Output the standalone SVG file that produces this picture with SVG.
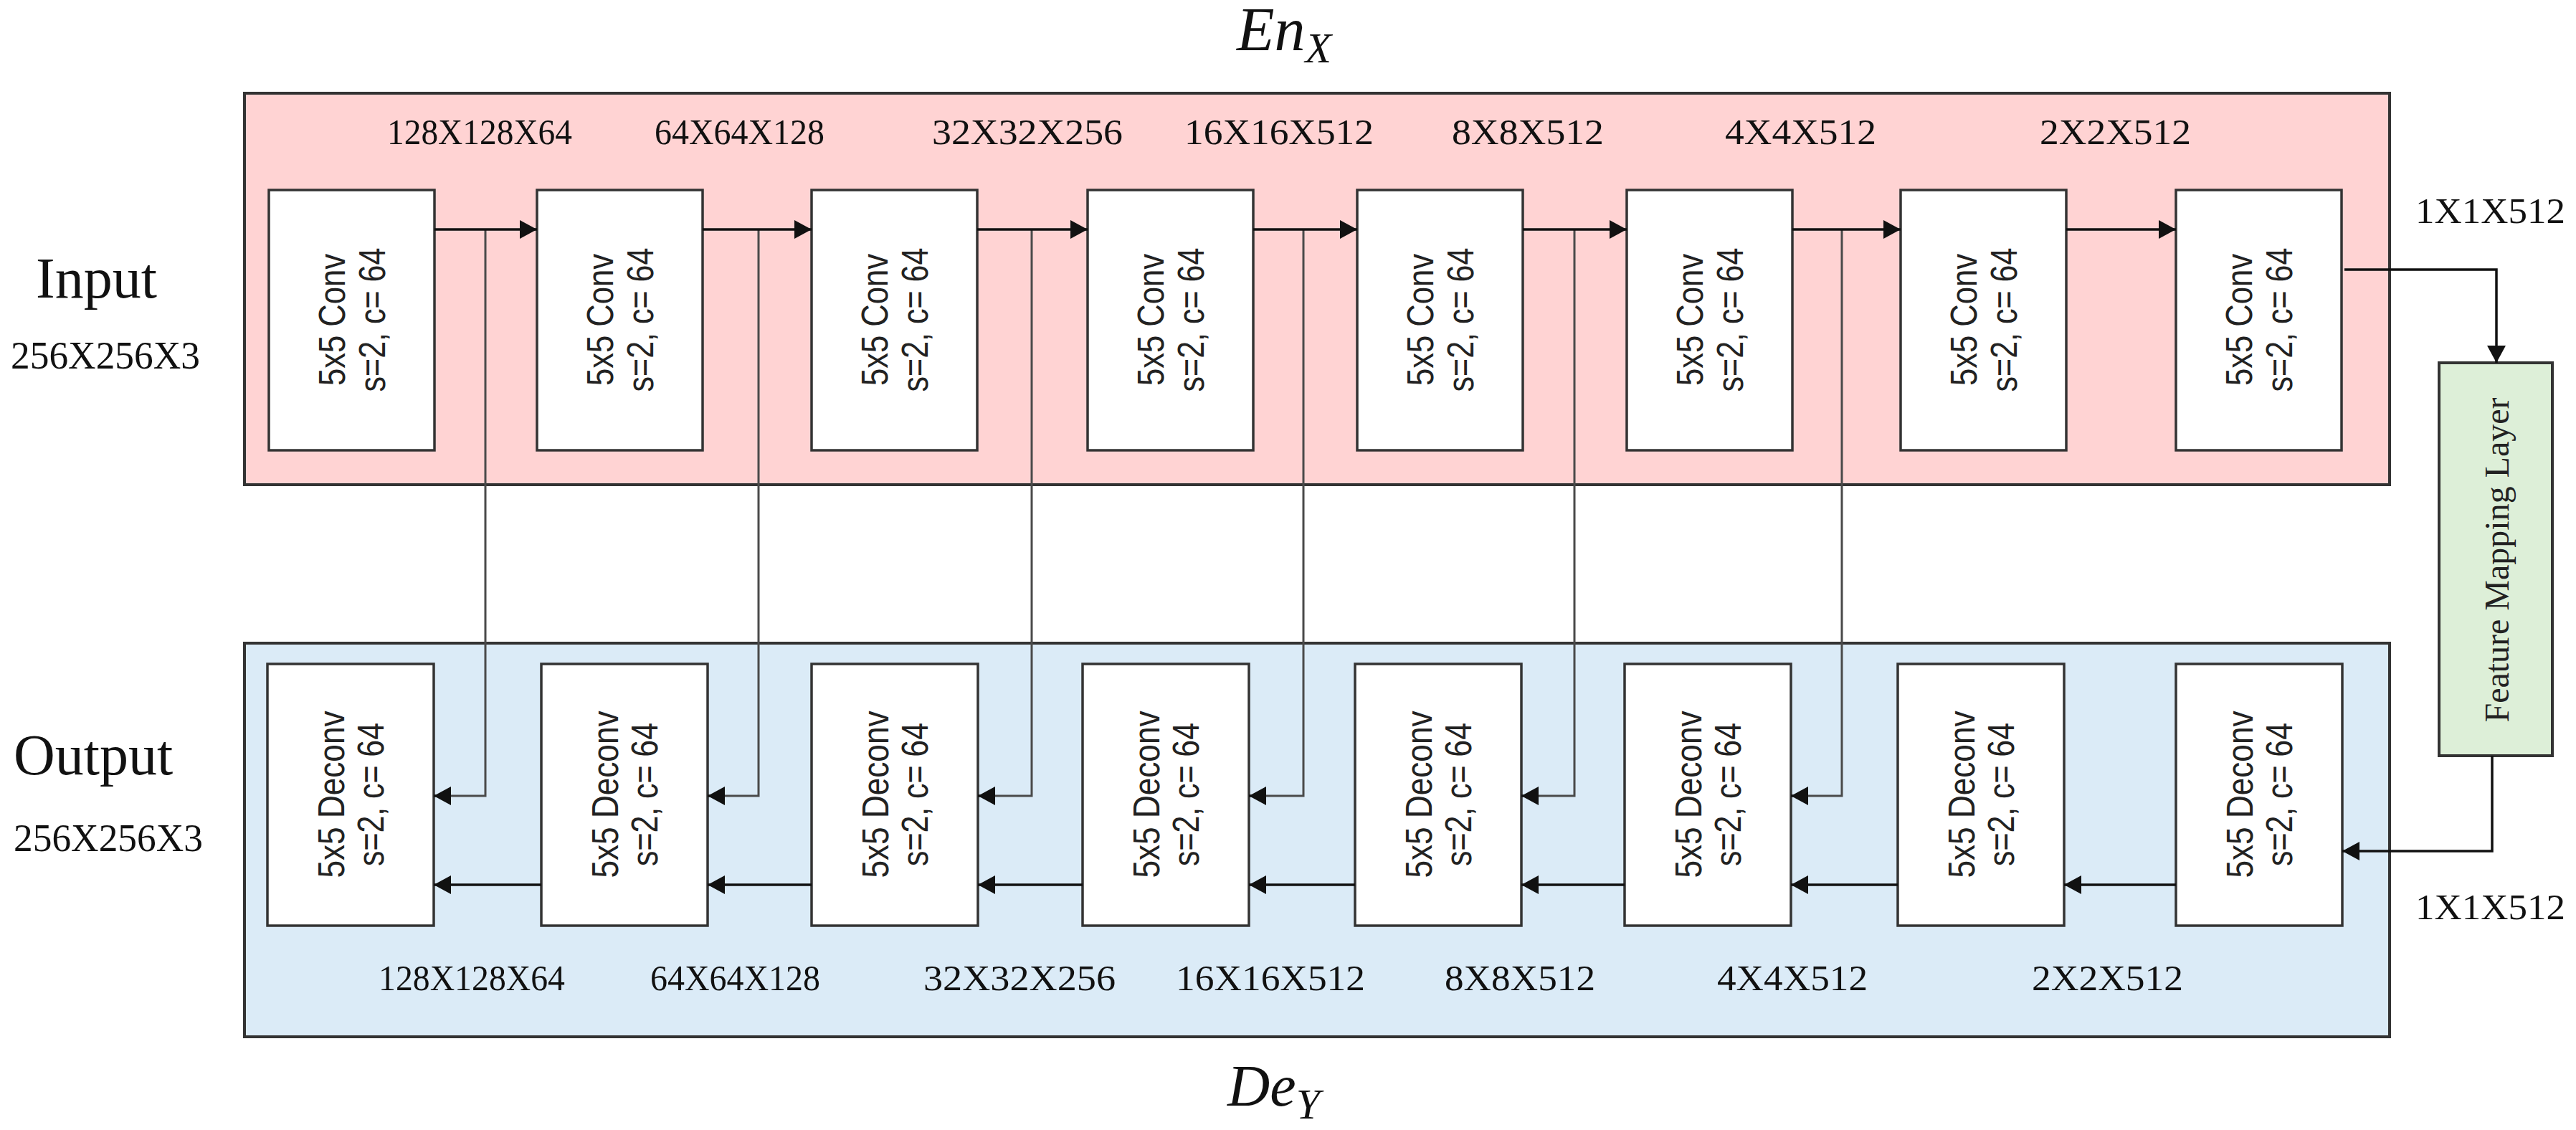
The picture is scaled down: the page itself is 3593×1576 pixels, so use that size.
<svg xmlns="http://www.w3.org/2000/svg" width="3593" height="1576" viewBox="0 0 3593 1576">
<style>
.bg{fill:#ffffff}
.enc{fill:#ffd3d3;stroke:#333;stroke-width:4}
.dec{fill:#dbebf7;stroke:#333;stroke-width:4}
.box{fill:#ffffff;stroke:#333;stroke-width:3.5}
.fm{fill:#ddefd8;stroke:#333;stroke-width:4}
.lbl{font-family:"Liberation Serif","Times New Roman",serif;font-size:50px;fill:#111}
.side{font-family:"Liberation Serif","Times New Roman",serif;font-size:80px;fill:#111}
.dim{font-family:"Liberation Serif","Times New Roman",serif;font-size:54px;fill:#111}
.math{font-family:"Liberation Serif","Times New Roman",serif;font-style:italic;fill:#111}
.bt{font-family:"Liberation Sans",Arial,sans-serif;font-size:52px;fill:#222;text-anchor:middle}
.fmt{font-family:"Liberation Serif","Times New Roman",serif;font-size:48px;fill:#222;text-anchor:middle}
.arr{fill:none;stroke:#111;stroke-width:3.5}
.skip{fill:none;stroke:#4a4a4a;stroke-width:3}
</style>
<defs>
<marker id="ah" markerUnits="userSpaceOnUse" markerWidth="24" markerHeight="26" refX="24" refY="13" orient="auto">
<path d="M0,0 L24,13 L0,26 z" fill="#111"/>
</marker>
</defs>
<rect class="bg" x="0" y="0" width="3593" height="1576"/>

<g id="encoder">
<rect class="enc" x="341" y="130" width="2992" height="546"/>
</g>
<g id="decoder">
<rect class="dec" x="341" y="897" width="2992" height="549"/>
</g>

<g id="titles">
<text class="math" x="1725" y="70" font-size="86">En<tspan font-size="60" dy="17">X</tspan></text>
<text class="math" x="1712" y="1542" font-size="82">De<tspan font-size="60" dy="18">Y</tspan></text>
<text class="side" x="50" y="415">Input</text>
<text class="dim" x="15" y="514" textLength="264" lengthAdjust="spacingAndGlyphs">256X256X3</text>
<text class="side" x="19" y="1080">Output</text>
<text class="dim" x="19" y="1187" textLength="264" lengthAdjust="spacingAndGlyphs">256X256X3</text>
</g>

<g id="enc-labels">
<text class="lbl" x="540" y="201" textLength="258" lengthAdjust="spacingAndGlyphs">128X128X64</text>
<text class="lbl" x="913" y="201" textLength="237" lengthAdjust="spacingAndGlyphs">64X64X128</text>
<text class="lbl" x="1300" y="201" textLength="266" lengthAdjust="spacingAndGlyphs">32X32X256</text>
<text class="lbl" x="1652" y="201" textLength="264" lengthAdjust="spacingAndGlyphs">16X16X512</text>
<text class="lbl" x="2025" y="201" textLength="212" lengthAdjust="spacingAndGlyphs">8X8X512</text>
<text class="lbl" x="2406" y="201" textLength="211" lengthAdjust="spacingAndGlyphs">4X4X512</text>
<text class="lbl" x="2845" y="201" textLength="211" lengthAdjust="spacingAndGlyphs">2X2X512</text>
<text class="lbl" x="3369" y="311" textLength="209" lengthAdjust="spacingAndGlyphs">1X1X512</text>
</g>
<g id="dec-labels">
<text class="lbl" x="528" y="1381" textLength="260" lengthAdjust="spacingAndGlyphs">128X128X64</text>
<text class="lbl" x="907" y="1381" textLength="237" lengthAdjust="spacingAndGlyphs">64X64X128</text>
<text class="lbl" x="1288" y="1381" textLength="268" lengthAdjust="spacingAndGlyphs">32X32X256</text>
<text class="lbl" x="1640" y="1381" textLength="264" lengthAdjust="spacingAndGlyphs">16X16X512</text>
<text class="lbl" x="2015" y="1381" textLength="210" lengthAdjust="spacingAndGlyphs">8X8X512</text>
<text class="lbl" x="2395" y="1381" textLength="210" lengthAdjust="spacingAndGlyphs">4X4X512</text>
<text class="lbl" x="2834" y="1381" textLength="211" lengthAdjust="spacingAndGlyphs">2X2X512</text>
<text class="lbl" x="3369" y="1282" textLength="209" lengthAdjust="spacingAndGlyphs">1X1X512</text>
</g>

<g id="conv1"><rect class="box" x="375" y="265" width="231" height="363"/><text class="bt" transform="translate(481,446) rotate(-90)" textLength="184" lengthAdjust="spacingAndGlyphs">5x5 Conv</text><text class="bt" transform="translate(537,446) rotate(-90)" textLength="201" lengthAdjust="spacingAndGlyphs">s=2, c= 64</text></g>
<g id="conv2"><rect class="box" x="749" y="265" width="231" height="363"/><text class="bt" transform="translate(855,446) rotate(-90)" textLength="184" lengthAdjust="spacingAndGlyphs">5x5 Conv</text><text class="bt" transform="translate(911,446) rotate(-90)" textLength="201" lengthAdjust="spacingAndGlyphs">s=2, c= 64</text></g>
<g id="conv3"><rect class="box" x="1132" y="265" width="231" height="363"/><text class="bt" transform="translate(1238,446) rotate(-90)" textLength="184" lengthAdjust="spacingAndGlyphs">5x5 Conv</text><text class="bt" transform="translate(1294,446) rotate(-90)" textLength="201" lengthAdjust="spacingAndGlyphs">s=2, c= 64</text></g>
<g id="conv4"><rect class="box" x="1517" y="265" width="231" height="363"/><text class="bt" transform="translate(1623,446) rotate(-90)" textLength="184" lengthAdjust="spacingAndGlyphs">5x5 Conv</text><text class="bt" transform="translate(1679,446) rotate(-90)" textLength="201" lengthAdjust="spacingAndGlyphs">s=2, c= 64</text></g>
<g id="conv5"><rect class="box" x="1893" y="265" width="231" height="363"/><text class="bt" transform="translate(1999,446) rotate(-90)" textLength="184" lengthAdjust="spacingAndGlyphs">5x5 Conv</text><text class="bt" transform="translate(2055,446) rotate(-90)" textLength="201" lengthAdjust="spacingAndGlyphs">s=2, c= 64</text></g>
<g id="conv6"><rect class="box" x="2269" y="265" width="231" height="363"/><text class="bt" transform="translate(2375,446) rotate(-90)" textLength="184" lengthAdjust="spacingAndGlyphs">5x5 Conv</text><text class="bt" transform="translate(2431,446) rotate(-90)" textLength="201" lengthAdjust="spacingAndGlyphs">s=2, c= 64</text></g>
<g id="conv7"><rect class="box" x="2651" y="265" width="231" height="363"/><text class="bt" transform="translate(2757,446) rotate(-90)" textLength="184" lengthAdjust="spacingAndGlyphs">5x5 Conv</text><text class="bt" transform="translate(2813,446) rotate(-90)" textLength="201" lengthAdjust="spacingAndGlyphs">s=2, c= 64</text></g>
<g id="conv8"><rect class="box" x="3035" y="265" width="231" height="363"/><text class="bt" transform="translate(3141,446) rotate(-90)" textLength="184" lengthAdjust="spacingAndGlyphs">5x5 Conv</text><text class="bt" transform="translate(3197,446) rotate(-90)" textLength="201" lengthAdjust="spacingAndGlyphs">s=2, c= 64</text></g>

<g id="deconv1"><rect class="box" x="373" y="926" width="232" height="365"/><text class="bt" transform="translate(480,1108) rotate(-90)" textLength="233" lengthAdjust="spacingAndGlyphs">5x5 Deconv</text><text class="bt" transform="translate(535,1108) rotate(-90)" textLength="200" lengthAdjust="spacingAndGlyphs">s=2, c= 64</text></g>
<g id="deconv2"><rect class="box" x="755" y="926" width="232" height="365"/><text class="bt" transform="translate(862,1108) rotate(-90)" textLength="233" lengthAdjust="spacingAndGlyphs">5x5 Deconv</text><text class="bt" transform="translate(917,1108) rotate(-90)" textLength="200" lengthAdjust="spacingAndGlyphs">s=2, c= 64</text></g>
<g id="deconv3"><rect class="box" x="1132" y="926" width="232" height="365"/><text class="bt" transform="translate(1239,1108) rotate(-90)" textLength="233" lengthAdjust="spacingAndGlyphs">5x5 Deconv</text><text class="bt" transform="translate(1294,1108) rotate(-90)" textLength="200" lengthAdjust="spacingAndGlyphs">s=2, c= 64</text></g>
<g id="deconv4"><rect class="box" x="1510" y="926" width="232" height="365"/><text class="bt" transform="translate(1617,1108) rotate(-90)" textLength="233" lengthAdjust="spacingAndGlyphs">5x5 Deconv</text><text class="bt" transform="translate(1672,1108) rotate(-90)" textLength="200" lengthAdjust="spacingAndGlyphs">s=2, c= 64</text></g>
<g id="deconv5"><rect class="box" x="1890" y="926" width="232" height="365"/><text class="bt" transform="translate(1997,1108) rotate(-90)" textLength="233" lengthAdjust="spacingAndGlyphs">5x5 Deconv</text><text class="bt" transform="translate(2052,1108) rotate(-90)" textLength="200" lengthAdjust="spacingAndGlyphs">s=2, c= 64</text></g>
<g id="deconv6"><rect class="box" x="2266" y="926" width="232" height="365"/><text class="bt" transform="translate(2373,1108) rotate(-90)" textLength="233" lengthAdjust="spacingAndGlyphs">5x5 Deconv</text><text class="bt" transform="translate(2428,1108) rotate(-90)" textLength="200" lengthAdjust="spacingAndGlyphs">s=2, c= 64</text></g>
<g id="deconv7"><rect class="box" x="2647" y="926" width="232" height="365"/><text class="bt" transform="translate(2754,1108) rotate(-90)" textLength="233" lengthAdjust="spacingAndGlyphs">5x5 Deconv</text><text class="bt" transform="translate(2809,1108) rotate(-90)" textLength="200" lengthAdjust="spacingAndGlyphs">s=2, c= 64</text></g>
<g id="deconv8"><rect class="box" x="3035" y="926" width="232" height="365"/><text class="bt" transform="translate(3142,1108) rotate(-90)" textLength="233" lengthAdjust="spacingAndGlyphs">5x5 Deconv</text><text class="bt" transform="translate(3197,1108) rotate(-90)" textLength="200" lengthAdjust="spacingAndGlyphs">s=2, c= 64</text></g>

<g id="feature-mapping"><rect class="fm" x="3402" y="506" width="158" height="548"/><text class="fmt" transform="translate(3499,781) rotate(-90)" textLength="453" lengthAdjust="spacingAndGlyphs">Feature Mapping Layer</text></g>

<g id="connectors">
<path class="skip" d="M677,320 V1110 H620"/>
<path class="skip" d="M1058,320 V1110 H1002"/>
<path class="skip" d="M1439,320 V1110 H1379"/>
<path class="skip" d="M1818,320 V1110 H1757"/>
<path class="skip" d="M2196,320 V1110 H2137"/>
<path class="skip" d="M2569,320 V1110 H2513"/>
<path d="M622,1110 H605" class="arr" marker-end="url(#ah)"/>
<path d="M1004,1110 H987" class="arr" marker-end="url(#ah)"/>
<path d="M1381,1110 H1364" class="arr" marker-end="url(#ah)"/>
<path d="M1759,1110 H1742" class="arr" marker-end="url(#ah)"/>
<path d="M2139,1110 H2122" class="arr" marker-end="url(#ah)"/>
<path d="M2515,1110 H2498" class="arr" marker-end="url(#ah)"/>
<path class="arr" d="M606,320 H749" marker-end="url(#ah)"/>
<path class="arr" d="M980,320 H1132" marker-end="url(#ah)"/>
<path class="arr" d="M1363,320 H1517" marker-end="url(#ah)"/>
<path class="arr" d="M1748,320 H1893" marker-end="url(#ah)"/>
<path class="arr" d="M2124,320 H2269" marker-end="url(#ah)"/>
<path class="arr" d="M2500,320 H2651" marker-end="url(#ah)"/>
<path class="arr" d="M2882,320 H3035" marker-end="url(#ah)"/>
<path class="arr" d="M755,1234 H605" marker-end="url(#ah)"/>
<path class="arr" d="M1132,1234 H987" marker-end="url(#ah)"/>
<path class="arr" d="M1510,1234 H1364" marker-end="url(#ah)"/>
<path class="arr" d="M1890,1234 H1742" marker-end="url(#ah)"/>
<path class="arr" d="M2266,1234 H2122" marker-end="url(#ah)"/>
<path class="arr" d="M2647,1234 H2498" marker-end="url(#ah)"/>
<path class="arr" d="M3035,1234 H2879" marker-end="url(#ah)"/>
<path class="arr" d="M3270,376 H3482 V506" marker-end="url(#ah)"/>
<path class="arr" d="M3476,1054 V1187 H3267" marker-end="url(#ah)"/>
</g>
</svg>
